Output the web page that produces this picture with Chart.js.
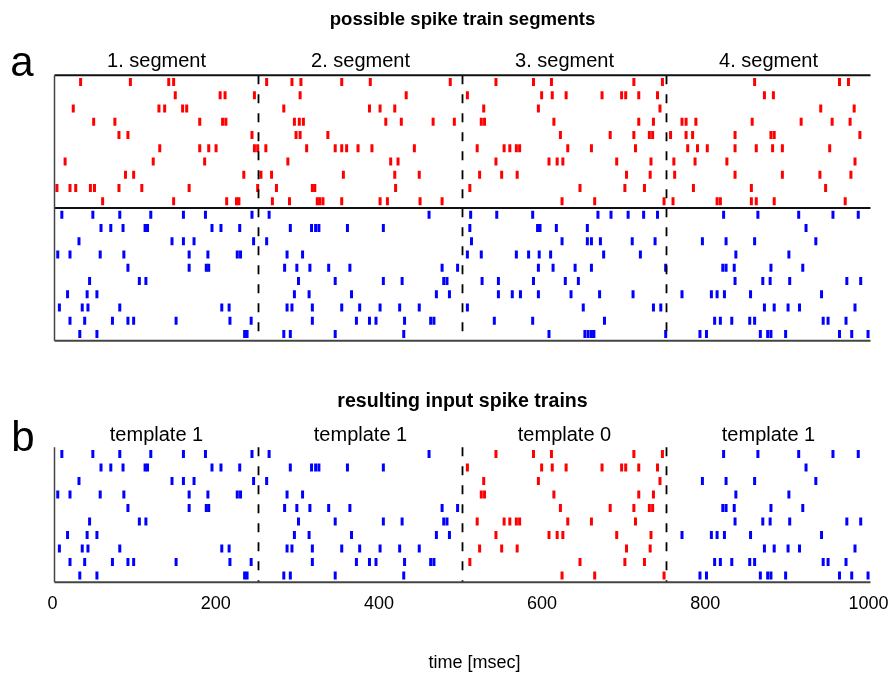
<!DOCTYPE html>
<html><head><meta charset="utf-8">
<script src="https://cdn.jsdelivr.net/npm/chart.js@4.4.1/dist/chart.umd.min.js"></script>
<style>
html,body{margin:0;padding:0;background:#fff;}
#wrap{position:relative;width:895px;height:682px;overflow:hidden;}
#c1{position:absolute;left:0;top:0;}
#c2{position:absolute;left:0;top:360px;}
</style></head><body>
<div id="wrap"><canvas id="c1" width="895" height="360"></canvas><canvas id="c2" width="895" height="322"></canvas></div>
<script>
// spike times (ms) per row, template 0 (red), top to bottom
const redRows = [
  [32, 93, 140, 146, 260, 291, 302, 352, 387, 485, 541, 587, 609, 710, 745, 858, 962, 973],
  [148, 203, 209, 245, 301, 431, 506, 597, 610, 627, 671, 695, 700, 716, 739, 870, 881],
  [23, 128, 135, 157, 162, 281, 386, 399, 417, 526, 593, 742, 939, 980],
  [48, 74, 178, 206, 210, 294, 300, 305, 406, 425, 464, 490, 523, 527, 612, 716, 734, 769, 774, 786, 855, 915, 953, 975],
  [79, 90, 242, 296, 301, 335, 620, 681, 710, 729, 733, 755, 774, 782, 834, 878, 882, 987],
  [129, 178, 189, 198, 245, 249, 259, 309, 344, 352, 358, 372, 389, 441, 518, 551, 558, 566, 570, 629, 658, 712, 776, 788, 800, 834, 860, 880, 892, 950],
  [13, 121, 184, 286, 412, 421, 541, 606, 616, 623, 689, 731, 759, 785, 824, 981],
  [87, 97, 232, 253, 266, 354, 417, 447, 521, 548, 567, 701, 730, 760, 834, 892, 938, 976],
  [3, 19, 26, 44, 49, 79, 107, 165, 249, 272, 316, 319, 418, 509, 644, 699, 723, 783, 854, 945],
  [59, 146, 211, 223, 226, 267, 288, 322, 325, 329, 352, 399, 408, 448, 475, 622, 662, 747, 758, 812, 816, 854, 860, 882, 969]
];
// spike times (ms) per row, template 1 (blue), top to bottom
const blueRows = [
  [9, 47, 80, 118, 158, 185, 242, 263, 459, 510, 542, 586, 666, 682, 703, 722, 739, 820, 862, 912, 954, 985],
  [57, 69, 84, 111, 114, 193, 204, 227, 289, 315, 320, 324, 359, 403, 509, 592, 595, 615, 653, 921],
  [30, 144, 158, 171, 244, 260, 511, 622, 653, 658, 669, 708, 736, 794, 823, 858, 933],
  [4, 19, 56, 85, 165, 188, 224, 228, 285, 304, 506, 523, 566, 581, 594, 608, 673, 718, 835, 900],
  [90, 165, 186, 189, 282, 297, 313, 336, 362, 475, 494, 593, 611, 638, 658, 749, 819, 823, 833, 878, 917],
  [43, 104, 112, 299, 344, 403, 426, 477, 481, 524, 544, 587, 626, 642, 834, 868, 877, 901, 971, 988],
  [16, 40, 52, 294, 312, 364, 468, 484, 544, 561, 571, 593, 633, 668, 709, 769, 805, 812, 821, 853, 940],
  [6, 34, 41, 80, 205, 214, 285, 291, 316, 352, 374, 399, 423, 447, 506, 648, 734, 743, 870, 882, 899, 913, 981],
  [19, 37, 71, 90, 97, 149, 215, 241, 316, 370, 386, 394, 429, 461, 465, 539, 586, 674, 809, 816, 830, 852, 858, 942, 948, 970],
  [31, 52, 233, 236, 281, 289, 344, 428, 606, 650, 654, 658, 661, 749, 791, 799, 865, 874, 878, 896, 962, 977, 997]
];
const segmentLabels = ['1. segment', '2. segment', '3. segment', '4. segment'];
const segmentTemplates = [1, 1, 0, 1];
const segmentBounds = [0, 250, 500, 750, 1000];
const xTickValues = [0, 200, 400, 600, 800, 1000];
const titleA = 'possible spike train segments';
const titleB = 'resulting input spike trains';
const axisTitle = 'time [msec]';

const RED = '#ff0000', BLUE = '#0000ff';
const FONT = '"Liberation Sans", Arial, Helvetica, sans-serif';

function rowsToPoints(rows, offset) {
  const pts = [];
  rows.forEach((row, r) => row.forEach(t => pts.push({x: t, y: offset + r + 0.5})));
  return pts;
}
const bPoints = {red: [], blue: []};
segmentTemplates.forEach((tpl, s) => {
  const src = tpl === 0 ? redRows : blueRows;
  src.forEach((row, r) => row.forEach(t => {
    if (t >= segmentBounds[s] && t < segmentBounds[s + 1]) {
      (tpl === 0 ? bPoints.red : bPoints.blue).push({x: t, y: r + 0.5});
    }
  }));
});

const spikeStyle = {pointStyle: 'line', rotation: 90, pointRadius: 4, pointBorderWidth: 3, showLine: false};

function line(ctx, x1, y1, x2, y2, color, w, dash) {
  ctx.save();
  ctx.strokeStyle = color; ctx.lineWidth = w;
  ctx.setLineDash(dash || []);
  ctx.beginPath(); ctx.moveTo(x1, y1); ctx.lineTo(x2, y2); ctx.stroke();
  ctx.restore();
}
function text(ctx, str, x, y, size, weight) {
  ctx.save();
  ctx.fillStyle = '#000';
  ctx.font = (weight || 'normal') + ' ' + size + 'px ' + FONT;
  ctx.textAlign = 'center'; ctx.textBaseline = 'middle';
  ctx.fillText(str, x, y);
  ctx.restore();
}

const framePluginA = {
  id: 'frameA',
  afterDatasetsDraw(chart) {
    const {ctx, chartArea: a, scales: {x, y}} = chart;
    [250, 500, 750].forEach(v => {
      const px = x.getPixelForValue(v);
      line(ctx, px, a.top, px, a.bottom, '#000', 1.8, [9, 10]);
    });
    line(ctx, a.left, a.top, a.right, a.top, '#111', 2);
    line(ctx, a.left, y.getPixelForValue(10), a.right, y.getPixelForValue(10), '#111', 1.8);
    line(ctx, a.left, a.bottom, a.right, a.bottom, '#444', 2);
    line(ctx, a.left, a.top, a.left, a.bottom, '#444', 1.5);
    text(ctx, titleA, (a.left + a.right) / 2, 20, 18.6, 'bold');
    text(ctx, 'a', 22, 64, 42);
    segmentLabels.forEach((l, s) => {
      text(ctx, l, x.getPixelForValue((segmentBounds[s] + segmentBounds[s + 1]) / 2), 61, 20);
    });
  }
};
const framePluginB = {
  id: 'frameB',
  afterDatasetsDraw(chart) {
    const {ctx, chartArea: a, scales: {x}} = chart;
    [250, 500, 750].forEach(v => {
      const px = x.getPixelForValue(v);
      line(ctx, px, a.top, px, a.bottom, '#000', 1.8, [9, 10]);
    });
    line(ctx, a.left, a.bottom, a.right, a.bottom, '#444', 2);
    line(ctx, a.left, a.top, a.left, a.bottom, '#444', 1.5);
    text(ctx, titleB, (a.left + a.right) / 2, 42, 19.6, 'bold');
    text(ctx, 'b', 23, 79, 42);
    segmentTemplates.forEach((tpl, s) => {
      text(ctx, 'template ' + tpl, x.getPixelForValue((segmentBounds[s] + segmentBounds[s + 1]) / 2), 75, 20);
    });
    text(ctx, axisTitle, (a.left + a.right) / 2 + 12, 303, 18);
  }
};

Chart.defaults.font.family = FONT;
Chart.defaults.color = '#000';

new Chart(document.getElementById('c1'), {
  type: 'scatter',
  data: {datasets: [
    Object.assign({label: 'template 0', data: rowsToPoints(redRows, 0), pointBorderColor: RED, pointBackgroundColor: RED}, spikeStyle),
    Object.assign({label: 'template 1', data: rowsToPoints(blueRows, 10), pointBorderColor: BLUE, pointBackgroundColor: BLUE}, spikeStyle)
  ]},
  options: {
    responsive: false, animation: false, devicePixelRatio: 1, events: [],
    layout: {padding: {left: 54.5, right: 24.5, top: 75.3, bottom: 19.3}},
    plugins: {legend: {display: false}, tooltip: {enabled: false}, title: {display: false}},
    scales: {
      x: {type: 'linear', min: 0, max: 1000, display: false},
      y: {type: 'linear', min: 0, max: 20, reverse: true, display: false}
    }
  },
  plugins: [framePluginA]
});

new Chart(document.getElementById('c2'), {
  type: 'scatter',
  data: {datasets: [
    Object.assign({label: 'template 0', data: bPoints.red, pointBorderColor: RED, pointBackgroundColor: RED}, spikeStyle),
    Object.assign({label: 'template 1', data: bPoints.blue, pointBorderColor: BLUE, pointBackgroundColor: BLUE}, spikeStyle)
  ]},
  options: {
    responsive: false, animation: false, devicePixelRatio: 1, events: [],
    layout: {padding: {left: 54.5, right: 24.5, top: 87.25, bottom: 56.15}},
    plugins: {legend: {display: false}, tooltip: {enabled: false}, title: {display: false}},
    scales: {
      x: {
        type: 'linear', min: 0, max: 1000, position: 'bottom',
        afterBuildTicks: scale => { scale.ticks = xTickValues.map(v => ({value: v})); },
        afterFit: scale => { scale.paddingLeft = 0; scale.paddingRight = 0; },
        ticks: {font: {size: 18}, color: '#000', padding: 11, labelOffset: -2, maxRotation: 0, autoSkip: false,
                callback: v => String(v)},
        grid: {display: false, drawTicks: false},
        border: {display: false},
        title: {display: false}
      },
      y: {type: 'linear', min: 0, max: 10, reverse: true, display: false}
    }
  },
  plugins: [framePluginB]
});
</script>
</body></html>
